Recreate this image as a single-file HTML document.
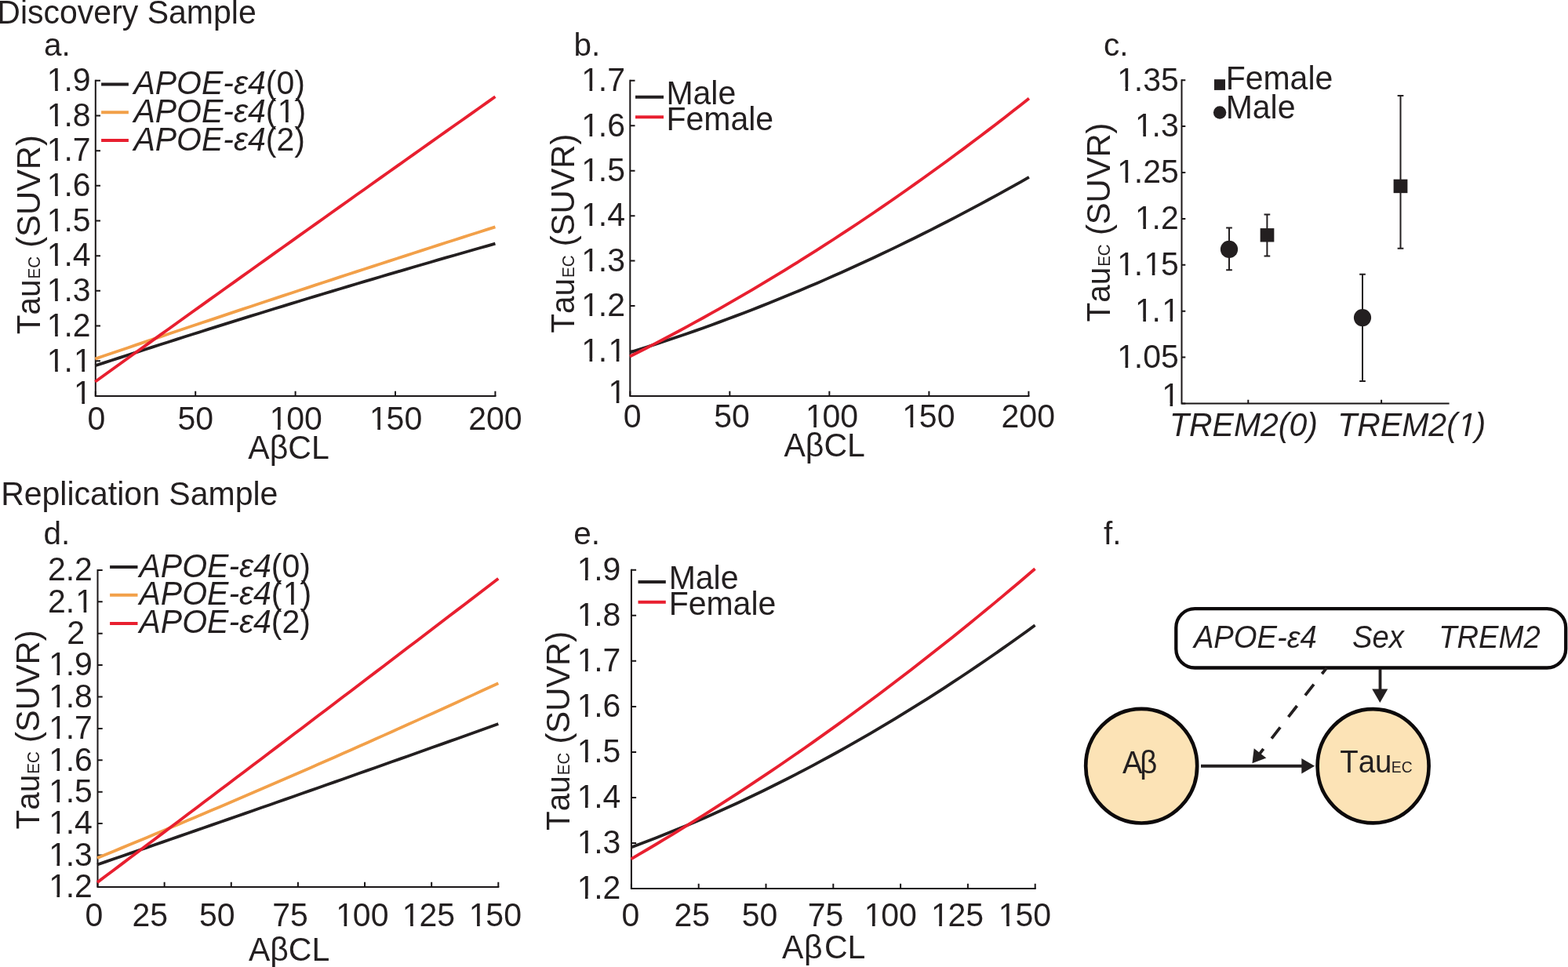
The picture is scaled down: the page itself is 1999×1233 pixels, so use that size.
<!DOCTYPE html>
<html><head><meta charset="utf-8"><style>
html,body{margin:0;padding:0;background:#fff;}
svg{display:block;}
text{font-family:"Liberation Sans",Arial,Helvetica,sans-serif;fill:#231f20;font-kerning:none;}
</style></head><body>
<svg width="1999" height="1233" viewBox="0 0 1999 1233">
<rect width="1999" height="1233" fill="#fff"/>
<text transform="translate(-3.66 29.70) scale(1 1.02)" font-size="41">Discovery Sample</text>
<text transform="translate(1.14 643.80) scale(1 1.02)" font-size="41">Replication Sample</text>
<text transform="translate(55.88 71.10)" font-size="40.5">a.</text>
<text transform="translate(731.39 70.80)" font-size="40.5">b.</text>
<text transform="translate(1406.88 70.70)" font-size="40.5">c.</text>
<text transform="translate(55.60 693.60)" font-size="40.5">d.</text>
<text transform="translate(731.28 693.60)" font-size="40.5">e.</text>
<text transform="translate(1406.93 693.60)" font-size="40.5">f.</text>
<path d="M121.80,101.80 V504.90 H632.40" fill="none" stroke="#1a1617" stroke-width="2.0" stroke-linejoin="miter"/>
<path d="M121.80,504.90H128.00M121.80,460.22H128.00M121.80,415.54H128.00M121.80,370.87H128.00M121.80,326.19H128.00M121.80,281.51H128.00M121.80,236.83H128.00M121.80,192.16H128.00M121.80,147.48H128.00M121.80,102.80H128.00M121.80,504.90V498.70M249.20,504.90V498.70M376.60,504.90V498.70M504.00,504.90V498.70M631.40,504.90V498.70" fill="none" stroke="#1a1617" stroke-width="2.0"/>
<text transform="translate(92.80 515.00) scale(1 1.04)" font-size="41.0"><tspan dx="1.23">1</tspan></text>
<text transform="translate(58.60 473.52) scale(1 1.04)" font-size="41.0"><tspan dx="1.23">1</tspan><tspan dx="-1.23">.</tspan><tspan dx="1.23">1</tspan></text>
<text transform="translate(58.60 428.84) scale(1 1.04)" font-size="41.0"><tspan dx="1.23">1</tspan><tspan dx="-1.23">.2</tspan></text>
<text transform="translate(58.60 384.17) scale(1 1.04)" font-size="41.0"><tspan dx="1.23">1</tspan><tspan dx="-1.23">.3</tspan></text>
<text transform="translate(58.60 339.49) scale(1 1.04)" font-size="41.0"><tspan dx="1.23">1</tspan><tspan dx="-1.23">.4</tspan></text>
<text transform="translate(58.60 294.81) scale(1 1.04)" font-size="41.0"><tspan dx="1.23">1</tspan><tspan dx="-1.23">.5</tspan></text>
<text transform="translate(58.60 250.13) scale(1 1.04)" font-size="41.0"><tspan dx="1.23">1</tspan><tspan dx="-1.23">.6</tspan></text>
<text transform="translate(58.60 205.46) scale(1 1.04)" font-size="41.0"><tspan dx="1.23">1</tspan><tspan dx="-1.23">.7</tspan></text>
<text transform="translate(58.60 160.78) scale(1 1.04)" font-size="41.0"><tspan dx="1.23">1</tspan><tspan dx="-1.23">.8</tspan></text>
<text transform="translate(58.60 116.10) scale(1 1.04)" font-size="41.0"><tspan dx="1.23">1</tspan><tspan dx="-1.23">.9</tspan></text>
<text transform="translate(111.60 548.20) scale(1 1.04)" font-size="41.0">0</text>
<text transform="translate(226.40 548.20) scale(1 1.04)" font-size="41.0">50</text>
<text transform="translate(342.40 548.20) scale(1 1.04)" font-size="41.0"><tspan dx="1.23">1</tspan><tspan dx="-1.23">00</tspan></text>
<text transform="translate(469.80 548.20) scale(1 1.04)" font-size="41.0"><tspan dx="1.23">1</tspan><tspan dx="-1.23">50</tspan></text>
<text transform="translate(597.20 548.20) scale(1 1.04)" font-size="41.0">200</text>
<text transform="translate(316.37 584.90) scale(1 1.04)" font-size="41.0">AβCL</text>
<text transform="translate(51.10 426.25) rotate(-90) scale(1 1.04)" font-size="40.5">Tau</text>
<text transform="translate(51.10 355.54) rotate(-90) scale(1 1.04)" font-size="20.5">EC</text>
<text transform="translate(51.10 315.81) rotate(-90) scale(1 1.04)" font-size="41.7">(SUVR)</text>
<polyline points="121.30,466.27 131.71,462.86 142.12,459.46 152.53,456.07 162.94,452.69 173.35,449.32 183.76,445.96 194.17,442.61 204.58,439.27 214.99,435.94 225.40,432.62 235.81,429.31 246.22,426.01 256.63,422.72 267.04,419.43 277.45,416.16 287.86,412.90 298.27,409.65 308.68,406.40 319.09,403.17 329.50,399.94 339.91,396.73 350.32,393.52 360.73,390.33 371.14,387.14 381.56,383.97 391.97,380.80 402.38,377.64 412.79,374.50 423.20,371.36 433.61,368.23 444.02,365.11 454.43,362.00 464.84,358.91 475.25,355.82 485.66,352.74 496.07,349.67 506.48,346.61 516.89,343.56 527.30,340.52 537.71,337.48 548.12,334.46 558.53,331.45 568.94,328.45 579.35,325.46 589.76,322.47 600.17,319.50 610.58,316.54 620.99,313.58 631.40,310.64" fill="none" stroke="#231f20" stroke-width="3.8" stroke-linejoin="round"/>
<polyline points="121.30,457.63 131.71,454.07 142.12,450.53 152.53,446.98 162.94,443.44 173.35,439.91 183.76,436.38 194.17,432.86 204.58,429.34 214.99,425.82 225.40,422.32 235.81,418.81 246.22,415.31 256.63,411.82 267.04,408.33 277.45,404.85 287.86,401.37 298.27,397.89 308.68,394.42 319.09,390.96 329.50,387.50 339.91,384.05 350.32,380.60 360.73,377.15 371.14,373.71 381.56,370.28 391.97,366.85 402.38,363.42 412.79,360.00 423.20,356.59 433.61,353.18 444.02,349.78 454.43,346.38 464.84,342.98 475.25,339.59 485.66,336.21 496.07,332.83 506.48,329.45 516.89,326.08 527.30,322.72 537.71,319.36 548.12,316.00 558.53,312.65 568.94,309.31 579.35,305.97 589.76,302.63 600.17,299.30 610.58,295.97 620.99,292.65 631.40,289.34" fill="none" stroke="#f2a049" stroke-width="3.8" stroke-linejoin="round"/>
<polyline points="121.30,486.73 131.71,479.25 142.12,471.76 152.53,464.28 162.94,456.80 173.35,449.32 183.76,441.85 194.17,434.38 204.58,426.91 214.99,419.44 225.40,411.98 235.81,404.52 246.22,397.07 256.63,389.61 267.04,382.16 277.45,374.72 287.86,367.27 298.27,359.83 308.68,352.39 319.09,344.96 329.50,337.53 339.91,330.10 350.32,322.67 360.73,315.25 371.14,307.83 381.56,300.41 391.97,292.99 402.38,285.58 412.79,278.18 423.20,270.77 433.61,263.37 444.02,255.97 454.43,248.57 464.84,241.18 475.25,233.79 485.66,226.40 496.07,219.02 506.48,211.63 516.89,204.26 527.30,196.88 537.71,189.51 548.12,182.14 558.53,174.77 568.94,167.41 579.35,160.05 589.76,152.69 600.17,145.33 610.58,137.98 620.99,130.63 631.40,123.29" fill="none" stroke="#e81f2f" stroke-width="3.8" stroke-linejoin="round"/>
<line x1="129.10" y1="107.60" x2="163.90" y2="107.60" stroke="#231f20" stroke-width="4"/>
<text transform="translate(170.42 119.60) scale(1 1.04)" font-size="41.0"><tspan font-style="italic">APOE-ε4</tspan>(0)</text>
<line x1="129.10" y1="143.35" x2="163.90" y2="143.35" stroke="#f2a049" stroke-width="4"/>
<text transform="translate(170.42 155.65) scale(1 1.04)" font-size="41.0"><tspan font-style="italic">APOE-ε4</tspan>(<tspan dx="1.23">1</tspan>)</text>
<line x1="129.10" y1="179.10" x2="163.90" y2="179.10" stroke="#e81f2f" stroke-width="4"/>
<text transform="translate(170.42 191.70) scale(1 1.04)" font-size="41.0"><tspan font-style="italic">APOE-ε4</tspan>(2)</text>
<path d="M803.30,101.80 V504.90 H1312.40" fill="none" stroke="#1a1617" stroke-width="2.0" stroke-linejoin="miter"/>
<path d="M803.30,504.90H809.50M803.30,447.46H809.50M803.30,390.01H809.50M803.30,332.57H809.50M803.30,275.13H809.50M803.30,217.69H809.50M803.30,160.24H809.50M803.30,102.80H809.50M803.30,504.90V498.70M930.33,504.90V498.70M1057.35,504.90V498.70M1184.38,504.90V498.70M1311.40,504.90V498.70" fill="none" stroke="#1a1617" stroke-width="2.0"/>
<text transform="translate(774.20 513.70) scale(1 1.04)" font-size="41.0"><tspan dx="1.23">1</tspan></text>
<text transform="translate(740.00 460.76) scale(1 1.04)" font-size="41.0"><tspan dx="1.23">1</tspan><tspan dx="-1.23">.</tspan><tspan dx="1.23">1</tspan></text>
<text transform="translate(740.00 403.31) scale(1 1.04)" font-size="41.0"><tspan dx="1.23">1</tspan><tspan dx="-1.23">.2</tspan></text>
<text transform="translate(740.00 345.87) scale(1 1.04)" font-size="41.0"><tspan dx="1.23">1</tspan><tspan dx="-1.23">.3</tspan></text>
<text transform="translate(740.00 288.43) scale(1 1.04)" font-size="41.0"><tspan dx="1.23">1</tspan><tspan dx="-1.23">.4</tspan></text>
<text transform="translate(740.00 230.99) scale(1 1.04)" font-size="41.0"><tspan dx="1.23">1</tspan><tspan dx="-1.23">.5</tspan></text>
<text transform="translate(740.00 173.54) scale(1 1.04)" font-size="41.0"><tspan dx="1.23">1</tspan><tspan dx="-1.23">.6</tspan></text>
<text transform="translate(740.00 116.10) scale(1 1.04)" font-size="41.0"><tspan dx="1.23">1</tspan><tspan dx="-1.23">.7</tspan></text>
<text transform="translate(794.70 545.40) scale(1 1.04)" font-size="41.0">0</text>
<text transform="translate(910.23 545.40) scale(1 1.04)" font-size="41.0">50</text>
<text transform="translate(1025.74 545.40) scale(1 1.04)" font-size="41.0"><tspan dx="1.23">1</tspan><tspan dx="-1.23">00</tspan></text>
<text transform="translate(1149.04 545.40) scale(1 1.04)" font-size="41.0"><tspan dx="1.23">1</tspan><tspan dx="-1.23">50</tspan></text>
<text transform="translate(1276.57 545.40) scale(1 1.04)" font-size="41.0">200</text>
<text transform="translate(999.47 582.20) scale(1 1.04)" font-size="41.0">AβCL</text>
<text transform="translate(731.50 424.75) rotate(-90) scale(1 1.04)" font-size="40.5">Tau</text>
<text transform="translate(731.50 354.04) rotate(-90) scale(1 1.04)" font-size="20.5">EC</text>
<text transform="translate(731.50 314.31) rotate(-90) scale(1 1.04)" font-size="41.7">(SUVR)</text>
<polyline points="803.00,449.32 813.39,446.08 823.77,442.78 834.16,439.43 844.54,436.03 854.93,432.57 865.31,429.05 875.70,425.48 886.09,421.85 896.47,418.17 906.86,414.44 917.24,410.65 927.63,406.80 938.01,402.90 948.40,398.95 958.79,394.94 969.17,390.87 979.56,386.75 989.94,382.58 1000.33,378.35 1010.71,374.06 1021.10,369.72 1031.49,365.33 1041.87,360.88 1052.26,356.38 1062.64,351.82 1073.03,347.20 1083.41,342.53 1093.80,337.81 1104.19,333.03 1114.57,328.20 1124.96,323.31 1135.34,318.37 1145.73,313.37 1156.11,308.31 1166.50,303.21 1176.89,298.04 1187.27,292.83 1197.66,287.55 1208.04,282.22 1218.43,276.84 1228.81,271.40 1239.20,265.91 1249.59,260.36 1259.97,254.76 1270.36,249.10 1280.74,243.39 1291.13,237.63 1301.51,231.80 1311.90,225.93" fill="none" stroke="#231f20" stroke-width="3.8" stroke-linejoin="round"/>
<polyline points="803.00,454.49 813.39,449.26 823.77,443.97 834.16,438.62 844.54,433.21 854.93,427.74 865.31,422.20 875.70,416.60 886.09,410.94 896.47,405.22 906.86,399.44 917.24,393.59 927.63,387.68 938.01,381.71 948.40,375.68 958.79,369.58 969.17,363.43 979.56,357.21 989.94,350.93 1000.33,344.59 1010.71,338.18 1021.10,331.72 1031.49,325.19 1041.87,318.60 1052.26,311.94 1062.64,305.23 1073.03,298.45 1083.41,291.61 1093.80,284.71 1104.19,277.75 1114.57,270.73 1124.96,263.64 1135.34,256.49 1145.73,249.28 1156.11,242.01 1166.50,234.67 1176.89,227.28 1187.27,219.82 1197.66,212.30 1208.04,204.71 1218.43,197.07 1228.81,189.36 1239.20,181.59 1249.59,173.76 1259.97,165.87 1270.36,157.92 1280.74,149.90 1291.13,141.82 1301.51,133.68 1311.90,125.48" fill="none" stroke="#e81f2f" stroke-width="3.8" stroke-linejoin="round"/>
<line x1="810.00" y1="123.80" x2="846.00" y2="123.80" stroke="#231f20" stroke-width="4"/>
<line x1="810.00" y1="149.30" x2="846.00" y2="149.30" stroke="#e81f2f" stroke-width="4"/>
<text transform="translate(849.44 133.00) scale(1 1.04)" font-size="41.0">Male</text>
<text transform="translate(849.44 166.00) scale(1 1.04)" font-size="41.0">Female</text>
<path d="M1506.50,101.20 V514.50 H1847.60" fill="none" stroke="#1a1617" stroke-width="2.0"/>
<path d="M1506.50,514.50H1511.30M1506.50,455.60H1511.30M1506.50,396.70H1511.30M1506.50,337.80H1511.30M1506.50,278.90H1511.30M1506.50,220.00H1511.30M1506.50,161.10H1511.30M1506.50,102.20H1511.30M1591.30,514.50V509.70M1761.10,514.50V509.70" fill="none" stroke="#1a1617" stroke-width="2.0"/>
<text transform="translate(1423.00 468.90) scale(1 1.04)" font-size="41.0"><tspan dx="1.23">1</tspan><tspan dx="-1.23">.05</tspan></text>
<text transform="translate(1445.80 410.00) scale(1 1.04)" font-size="41.0"><tspan dx="1.23">1</tspan><tspan dx="-1.23">.</tspan><tspan dx="1.23">1</tspan></text>
<text transform="translate(1423.00 351.10) scale(1 1.04)" font-size="41.0"><tspan dx="1.23">1</tspan><tspan dx="-1.23">.</tspan><tspan dx="1.23">1</tspan><tspan dx="-1.23">5</tspan></text>
<text transform="translate(1445.80 292.20) scale(1 1.04)" font-size="41.0"><tspan dx="1.23">1</tspan><tspan dx="-1.23">.2</tspan></text>
<text transform="translate(1423.00 233.30) scale(1 1.04)" font-size="41.0"><tspan dx="1.23">1</tspan><tspan dx="-1.23">.25</tspan></text>
<text transform="translate(1445.80 174.40) scale(1 1.04)" font-size="41.0"><tspan dx="1.23">1</tspan><tspan dx="-1.23">.3</tspan></text>
<text transform="translate(1423.00 115.50) scale(1 1.04)" font-size="41.0"><tspan dx="1.23">1</tspan><tspan dx="-1.23">.35</tspan></text>
<text transform="translate(1480.00 517.80) scale(1 1.04)" font-size="41.0"><tspan dx="1.23">1</tspan></text>
<text transform="translate(1490.95 555.60) scale(1 1.04)" font-size="41.0" font-style="italic">TREM2(0)</text>
<text transform="translate(1705.25 555.60) scale(1 1.04)" font-size="41.0" font-style="italic">TREM2(<tspan dx="1.23">1</tspan><tspan dx="-1.23">)</tspan></text>
<text transform="translate(1415.10 410.55) rotate(-90) scale(1 1.04)" font-size="40.5">Tau</text>
<text transform="translate(1415.10 339.84) rotate(-90) scale(1 1.04)" font-size="20.5">EC</text>
<text transform="translate(1415.10 300.11) rotate(-90) scale(1 1.04)" font-size="41.7">(SUVR)</text>
<path d="M1563.15,290.40H1570.85M1567.00,290.40V344.30M1563.15,344.30H1570.85" fill="none" stroke="#231f20" stroke-width="2.0"/>
<path d="M1611.55,273.40H1619.25M1615.40,273.40V326.50M1611.55,326.50H1619.25" fill="none" stroke="#231f20" stroke-width="2.0"/>
<path d="M1733.15,349.70H1740.85M1737.00,349.70V485.90M1733.15,485.90H1740.85" fill="none" stroke="#231f20" stroke-width="2.0"/>
<path d="M1781.65,122.00H1789.35M1785.50,122.00V316.80M1781.65,316.80H1789.35" fill="none" stroke="#231f20" stroke-width="2.0"/>
<circle cx="1567.0" cy="317.9" r="11.1" fill="#231f20"/>
<circle cx="1737.0" cy="405.1" r="11.1" fill="#231f20"/>
<rect x="1606.65" y="291.10" width="17.7" height="17.4" fill="#231f20"/>
<rect x="1776.60" y="228.65" width="17.8" height="17.5" fill="#231f20"/>
<rect x="1548.0" y="101.2" width="14.0" height="13.7" fill="#231f20"/>
<circle cx="1555.1" cy="143.5" r="8.2" fill="#231f20"/>
<text transform="translate(1562.64 114.00) scale(1 1.04)" font-size="41.0">Female</text>
<text transform="translate(1562.64 151.00) scale(1 1.04)" font-size="41.0">Male</text>
<path d="M124.50,725.90 V1130.90 H636.30" fill="none" stroke="#1a1617" stroke-width="2.0" stroke-linejoin="miter"/>
<path d="M124.50,1130.90H130.70M124.50,1090.50H130.70M124.50,1050.10H130.70M124.50,1009.70H130.70M124.50,969.30H130.70M124.50,928.90H130.70M124.50,888.50H130.70M124.50,848.10H130.70M124.50,807.70H130.70M124.50,767.30H130.70M124.50,726.90H130.70M124.50,1130.90V1124.70M209.63,1130.90V1124.70M294.77,1130.90V1124.70M379.90,1130.90V1124.70M465.03,1130.90V1124.70M550.17,1130.90V1124.70M635.30,1130.90V1124.70" fill="none" stroke="#1a1617" stroke-width="2.0"/>
<text transform="translate(60.90 1144.20) scale(1 1.04)" font-size="41.0"><tspan dx="1.23">1</tspan><tspan dx="-1.23">.2</tspan></text>
<text transform="translate(60.90 1103.80) scale(1 1.04)" font-size="41.0"><tspan dx="1.23">1</tspan><tspan dx="-1.23">.3</tspan></text>
<text transform="translate(60.90 1063.40) scale(1 1.04)" font-size="41.0"><tspan dx="1.23">1</tspan><tspan dx="-1.23">.4</tspan></text>
<text transform="translate(60.90 1023.00) scale(1 1.04)" font-size="41.0"><tspan dx="1.23">1</tspan><tspan dx="-1.23">.5</tspan></text>
<text transform="translate(60.90 982.60) scale(1 1.04)" font-size="41.0"><tspan dx="1.23">1</tspan><tspan dx="-1.23">.6</tspan></text>
<text transform="translate(60.90 942.20) scale(1 1.04)" font-size="41.0"><tspan dx="1.23">1</tspan><tspan dx="-1.23">.7</tspan></text>
<text transform="translate(60.90 901.80) scale(1 1.04)" font-size="41.0"><tspan dx="1.23">1</tspan><tspan dx="-1.23">.8</tspan></text>
<text transform="translate(60.90 861.40) scale(1 1.04)" font-size="41.0"><tspan dx="1.23">1</tspan><tspan dx="-1.23">.9</tspan></text>
<text transform="translate(85.20 821.00) scale(1 1.04)" font-size="41.0">2</text>
<text transform="translate(60.90 780.60) scale(1 1.04)" font-size="41.0">2.<tspan dx="1.23">1</tspan></text>
<text transform="translate(60.90 740.20) scale(1 1.04)" font-size="41.0">2.2</text>
<text transform="translate(108.60 1181.10) scale(1 1.04)" font-size="41.0">0</text>
<text transform="translate(168.43 1181.10) scale(1 1.04)" font-size="41.0">25</text>
<text transform="translate(253.88 1181.10) scale(1 1.04)" font-size="41.0">50</text>
<text transform="translate(347.31 1181.10) scale(1 1.04)" font-size="41.0">75</text>
<text transform="translate(427.04 1181.10) scale(1 1.04)" font-size="41.0"><tspan dx="1.23">1</tspan><tspan dx="-1.23">00</tspan></text>
<text transform="translate(511.60 1181.10) scale(1 1.04)" font-size="41.0"><tspan dx="1.23">1</tspan><tspan dx="-1.23">25</tspan></text>
<text transform="translate(596.54 1181.10) scale(1 1.04)" font-size="41.0"><tspan dx="1.23">1</tspan><tspan dx="-1.23">50</tspan></text>
<text transform="translate(316.92 1224.60) scale(1 1.04)" font-size="41.0">AβCL</text>
<text transform="translate(50.20 1057.45) rotate(-90) scale(1 1.04)" font-size="40.5">Tau</text>
<text transform="translate(50.20 986.74) rotate(-90) scale(1 1.04)" font-size="20.5">EC</text>
<text transform="translate(50.20 947.01) rotate(-90) scale(1 1.04)" font-size="41.7">(SUVR)</text>
<polyline points="124.00,1102.49 134.43,1098.89 144.87,1095.29 155.30,1091.69 165.74,1088.09 176.17,1084.49 186.61,1080.88 197.04,1077.27 207.48,1073.65 217.91,1070.04 228.35,1066.42 238.78,1062.79 249.22,1059.17 259.65,1055.54 270.09,1051.91 280.52,1048.28 290.96,1044.64 301.39,1041.00 311.82,1037.36 322.26,1033.72 332.69,1030.07 343.13,1026.42 353.56,1022.77 364.00,1019.11 374.43,1015.45 384.87,1011.79 395.30,1008.13 405.74,1004.46 416.17,1000.79 426.61,997.12 437.04,993.44 447.48,989.76 457.91,986.08 468.34,982.40 478.78,978.71 489.21,975.02 499.65,971.33 510.08,967.64 520.52,963.94 530.95,960.24 541.39,956.54 551.82,952.83 562.26,949.12 572.69,945.41 583.13,941.70 593.56,937.98 604.00,934.26 614.43,930.54 624.87,926.81 635.30,923.08" fill="none" stroke="#231f20" stroke-width="3.8" stroke-linejoin="round"/>
<polyline points="124.00,1093.99 134.43,1089.72 144.87,1085.43 155.30,1081.13 165.74,1076.82 176.17,1072.50 186.61,1068.16 197.04,1063.82 207.48,1059.46 217.91,1055.10 228.35,1050.72 238.78,1046.33 249.22,1041.93 259.65,1037.51 270.09,1033.09 280.52,1028.66 290.96,1024.21 301.39,1019.75 311.82,1015.29 322.26,1010.81 332.69,1006.32 343.13,1001.81 353.56,997.30 364.00,992.78 374.43,988.24 384.87,983.69 395.30,979.14 405.74,974.57 416.17,969.99 426.61,965.39 437.04,960.79 447.48,956.18 457.91,951.55 468.34,946.91 478.78,942.27 489.21,937.61 499.65,932.94 510.08,928.25 520.52,923.56 530.95,918.86 541.39,914.14 551.82,909.41 562.26,904.68 572.69,899.93 583.13,895.16 593.56,890.39 604.00,885.61 614.43,880.82 624.87,876.01 635.30,871.19" fill="none" stroke="#f2a049" stroke-width="3.8" stroke-linejoin="round"/>
<polyline points="124.00,1125.14 134.43,1117.31 144.87,1109.47 155.30,1101.63 165.74,1093.79 176.17,1085.95 186.61,1078.10 197.04,1070.25 207.48,1062.39 217.91,1054.53 228.35,1046.67 238.78,1038.81 249.22,1030.95 259.65,1023.08 270.09,1015.20 280.52,1007.33 290.96,999.45 301.39,991.57 311.82,983.68 322.26,975.80 332.69,967.91 343.13,960.01 353.56,952.12 364.00,944.22 374.43,936.31 384.87,928.41 395.30,920.50 405.74,912.59 416.17,904.67 426.61,896.75 437.04,888.83 447.48,880.91 457.91,872.98 468.34,865.05 478.78,857.12 489.21,849.18 499.65,841.24 510.08,833.30 520.52,825.36 530.95,817.41 541.39,809.46 551.82,801.50 562.26,793.54 572.69,785.58 583.13,777.62 593.56,769.65 604.00,761.68 614.43,753.71 624.87,745.74 635.30,737.76" fill="none" stroke="#e81f2f" stroke-width="3.8" stroke-linejoin="round"/>
<line x1="140.10" y1="723.10" x2="175.50" y2="723.10" stroke="#231f20" stroke-width="4"/>
<text transform="translate(177.52 735.70) scale(1 1.04)" font-size="41.0"><tspan font-style="italic">APOE-ε4</tspan>(0)</text>
<line x1="140.10" y1="758.80" x2="175.50" y2="758.80" stroke="#f2a049" stroke-width="4"/>
<text transform="translate(177.52 770.70) scale(1 1.04)" font-size="41.0"><tspan font-style="italic">APOE-ε4</tspan>(<tspan dx="1.23">1</tspan>)</text>
<line x1="140.10" y1="795.00" x2="175.50" y2="795.00" stroke="#e81f2f" stroke-width="4"/>
<text transform="translate(177.52 806.50) scale(1 1.04)" font-size="41.0"><tspan font-style="italic">APOE-ε4</tspan>(2)</text>
<path d="M804.90,725.80 V1133.00 H1320.70" fill="none" stroke="#1a1617" stroke-width="2.0" stroke-linejoin="miter"/>
<path d="M804.90,1133.00H811.10M804.90,1074.97H811.10M804.90,1016.94H811.10M804.90,958.91H811.10M804.90,900.89H811.10M804.90,842.86H811.10M804.90,784.83H811.10M804.90,726.80H811.10M804.90,1133.00V1126.80M890.70,1133.00V1126.80M976.50,1133.00V1126.80M1062.30,1133.00V1126.80M1148.10,1133.00V1126.80M1233.90,1133.00V1126.80M1319.70,1133.00V1126.80" fill="none" stroke="#1a1617" stroke-width="2.0"/>
<text transform="translate(734.40 1146.30) scale(1 1.04)" font-size="41.0"><tspan dx="1.23">1</tspan><tspan dx="-1.23">.2</tspan></text>
<text transform="translate(734.40 1088.27) scale(1 1.04)" font-size="41.0"><tspan dx="1.23">1</tspan><tspan dx="-1.23">.3</tspan></text>
<text transform="translate(734.40 1030.24) scale(1 1.04)" font-size="41.0"><tspan dx="1.23">1</tspan><tspan dx="-1.23">.4</tspan></text>
<text transform="translate(734.40 972.21) scale(1 1.04)" font-size="41.0"><tspan dx="1.23">1</tspan><tspan dx="-1.23">.5</tspan></text>
<text transform="translate(734.40 914.19) scale(1 1.04)" font-size="41.0"><tspan dx="1.23">1</tspan><tspan dx="-1.23">.6</tspan></text>
<text transform="translate(734.40 856.16) scale(1 1.04)" font-size="41.0"><tspan dx="1.23">1</tspan><tspan dx="-1.23">.7</tspan></text>
<text transform="translate(734.40 798.13) scale(1 1.04)" font-size="41.0"><tspan dx="1.23">1</tspan><tspan dx="-1.23">.8</tspan></text>
<text transform="translate(734.40 740.10) scale(1 1.04)" font-size="41.0"><tspan dx="1.23">1</tspan><tspan dx="-1.23">.9</tspan></text>
<text transform="translate(792.60 1180.70) scale(1 1.04)" font-size="41.0">0</text>
<text transform="translate(859.53 1180.70) scale(1 1.04)" font-size="41.0">25</text>
<text transform="translate(945.78 1180.70) scale(1 1.04)" font-size="41.0">50</text>
<text transform="translate(1029.71 1180.70) scale(1 1.04)" font-size="41.0">75</text>
<text transform="translate(1100.44 1180.70) scale(1 1.04)" font-size="41.0"><tspan dx="1.23">1</tspan><tspan dx="-1.23">00</tspan></text>
<text transform="translate(1185.70 1180.70) scale(1 1.04)" font-size="41.0"><tspan dx="1.23">1</tspan><tspan dx="-1.23">25</tspan></text>
<text transform="translate(1271.64 1180.70) scale(1 1.04)" font-size="41.0"><tspan dx="1.23">1</tspan><tspan dx="-1.23">50</tspan></text>
<text transform="translate(0 1222.0) scale(1 1.04)" font-size="41.0"><tspan x="997.12">A</tspan><tspan x="1024.96">β</tspan><tspan x="1050.92">C</tspan><tspan x="1080.54">L</tspan></text>
<text transform="translate(726.40 1058.95) rotate(-90) scale(1 1.04)" font-size="40.5">Tau</text>
<text transform="translate(726.40 988.24) rotate(-90) scale(1 1.04)" font-size="20.5">EC</text>
<text transform="translate(726.40 948.51) rotate(-90) scale(1 1.04)" font-size="41.7">(SUVR)</text>
<polyline points="804.50,1080.46 815.01,1076.53 825.52,1072.54 836.03,1068.46 846.54,1064.31 857.05,1060.08 867.56,1055.77 878.07,1051.39 888.58,1046.92 899.09,1042.39 909.60,1037.77 920.11,1033.07 930.62,1028.30 941.13,1023.45 951.64,1018.53 962.15,1013.52 972.66,1008.44 983.17,1003.28 993.68,998.04 1004.19,992.73 1014.70,987.34 1025.21,981.87 1035.72,976.33 1046.23,970.70 1056.74,965.00 1067.26,959.22 1077.77,953.37 1088.28,947.43 1098.79,941.42 1109.30,935.34 1119.81,929.17 1130.32,922.93 1140.83,916.61 1151.34,910.21 1161.85,903.73 1172.36,897.18 1182.87,890.55 1193.38,883.85 1203.89,877.06 1214.40,870.20 1224.91,863.26 1235.42,856.24 1245.93,849.15 1256.44,841.98 1266.95,834.73 1277.46,827.40 1287.97,820.00 1298.48,812.52 1308.99,804.96 1319.50,797.32" fill="none" stroke="#231f20" stroke-width="3.8" stroke-linejoin="round"/>
<polyline points="804.50,1095.30 815.01,1089.17 825.52,1082.99 836.03,1076.75 846.54,1070.44 857.05,1064.08 867.56,1057.66 878.07,1051.18 888.58,1044.64 899.09,1038.04 909.60,1031.38 920.11,1024.66 930.62,1017.88 941.13,1011.04 951.64,1004.15 962.15,997.19 972.66,990.17 983.17,983.10 993.68,975.96 1004.19,968.77 1014.70,961.51 1025.21,954.20 1035.72,946.83 1046.23,939.40 1056.74,931.90 1067.26,924.35 1077.77,916.74 1088.28,909.07 1098.79,901.34 1109.30,893.56 1119.81,885.71 1130.32,877.80 1140.83,869.83 1151.34,861.81 1161.85,853.72 1172.36,845.57 1182.87,837.37 1193.38,829.11 1203.89,820.78 1214.40,812.40 1224.91,803.96 1235.42,795.45 1245.93,786.89 1256.44,778.27 1266.95,769.59 1277.46,760.85 1287.97,752.05 1298.48,743.19 1308.99,734.28 1319.50,725.30" fill="none" stroke="#e81f2f" stroke-width="3.8" stroke-linejoin="round"/>
<line x1="813.50" y1="742.00" x2="848.80" y2="742.00" stroke="#231f20" stroke-width="4"/>
<line x1="813.50" y1="767.70" x2="848.80" y2="767.70" stroke="#e81f2f" stroke-width="4"/>
<text transform="translate(852.64 750.80) scale(1 1.04)" font-size="41.0">Male</text>
<text transform="translate(852.64 784.00) scale(1 1.04)" font-size="41.0">Female</text>
<rect x="1499.3" y="776.2" width="496.9" height="75.3" rx="24" ry="24" fill="#fff" stroke="#0d0a0b" stroke-width="4.3"/>
<text transform="translate(1521.88 825.90) scale(1 1.04)" font-size="38.2" font-style="italic">APOE-ε4</text>
<text transform="translate(1723.99 825.80) scale(1 1.04)" font-size="38.2" font-style="italic">Sex</text>
<text transform="translate(1834.17 825.80) scale(1 1.04)" font-size="38.2" font-style="italic">TREM2</text>
<ellipse cx="1455.2" cy="976.7" rx="71.0" ry="72.8" fill="#fce3b6" stroke="#0d0a0b" stroke-width="4.7"/>
<ellipse cx="1750.6" cy="976.7" rx="71.0" ry="72.6" fill="#fce3b6" stroke="#0d0a0b" stroke-width="4.7"/>
<text transform="translate(1431.03 985.7) scale(1 1.04)" font-size="38.2">A<tspan dx="-3.3">β</tspan></text>
<text transform="translate(1708.24 984.6) scale(1 1.04)" font-size="38.4">Tau<tspan font-size="19.3" dx="-0.6">EC</tspan></text>
<line x1="1531.00" y1="976.80" x2="1660.00" y2="976.80" stroke="#231f20" stroke-width="3.9"/>
<path d="M1676.1,976.8 L1659.3,967.1 L1659.3,986.5 Z" fill="#231f20"/>
<line x1="1759.50" y1="853.00" x2="1759.50" y2="880.00" stroke="#231f20" stroke-width="3.8"/>
<path d="M1759.3,896.0 L1749.2,878.5 L1769.3,878.5 Z" fill="#231f20"/>
<line x1="1691.30" y1="851.60" x2="1605.89" y2="961.08" stroke="#231f20" stroke-width="3.8" stroke-dasharray="17.9 16.9" stroke-dashoffset="8.2"/>
<path d="M1596.40,973.20 L1598.71,954.19 L1614.29,966.39 Z" fill="#231f20"/>
<rect x="96" y="511" width="8.338" height="5" fill="#fff"/>
<rect x="107.961" y="511" width="8.039" height="5" fill="#fff"/>
<rect x="62" y="470" width="8.144" height="5" fill="#fff"/>
<rect x="73.768" y="470" width="7.232" height="5" fill="#fff"/>
<rect x="96" y="470" width="8.338" height="5" fill="#fff"/>
<rect x="107.961" y="470" width="8.039" height="5" fill="#fff"/>
<rect x="62" y="425" width="8.144" height="5" fill="#fff"/>
<rect x="73.768" y="425" width="7.232" height="5" fill="#fff"/>
<rect x="62" y="380" width="8.144" height="5" fill="#fff"/>
<rect x="73.768" y="380" width="7.232" height="5" fill="#fff"/>
<rect x="62" y="335" width="8.144" height="5" fill="#fff"/>
<rect x="73.768" y="335" width="7.232" height="5" fill="#fff"/>
<rect x="62" y="291" width="8.144" height="5" fill="#fff"/>
<rect x="73.768" y="291" width="7.232" height="5" fill="#fff"/>
<rect x="62" y="246" width="8.144" height="5" fill="#fff"/>
<rect x="73.768" y="246" width="7.232" height="5" fill="#fff"/>
<rect x="62" y="201" width="8.144" height="5" fill="#fff"/>
<rect x="73.768" y="201" width="7.232" height="5" fill="#fff"/>
<rect x="62" y="157" width="8.144" height="5" fill="#fff"/>
<rect x="73.768" y="157" width="7.232" height="5" fill="#fff"/>
<rect x="62" y="112" width="8.144" height="5" fill="#fff"/>
<rect x="73.768" y="112" width="7.232" height="5" fill="#fff"/>
<rect x="346" y="544" width="7.937" height="5" fill="#fff"/>
<rect x="357.560" y="544" width="7.440" height="5" fill="#fff"/>
<rect x="473" y="544" width="8.337" height="5" fill="#fff"/>
<rect x="484.960" y="544" width="8.040" height="5" fill="#fff"/>
<rect x="356" y="152" width="8.020" height="5" fill="#fff"/>
<rect x="367.643" y="152" width="7.357" height="5" fill="#fff"/>
<rect x="778" y="510" width="7.738" height="5" fill="#fff"/>
<rect x="789.361" y="510" width="7.639" height="5" fill="#fff"/>
<rect x="744" y="457" width="7.544" height="5" fill="#fff"/>
<rect x="755.168" y="457" width="7.832" height="5" fill="#fff"/>
<rect x="778" y="457" width="7.738" height="5" fill="#fff"/>
<rect x="789.361" y="457" width="7.639" height="5" fill="#fff"/>
<rect x="744" y="399" width="7.544" height="5" fill="#fff"/>
<rect x="755.168" y="399" width="7.832" height="5" fill="#fff"/>
<rect x="744" y="342" width="7.544" height="5" fill="#fff"/>
<rect x="755.168" y="342" width="7.832" height="5" fill="#fff"/>
<rect x="744" y="284" width="7.544" height="5" fill="#fff"/>
<rect x="755.168" y="284" width="7.832" height="5" fill="#fff"/>
<rect x="744" y="227" width="7.544" height="5" fill="#fff"/>
<rect x="755.168" y="227" width="7.832" height="5" fill="#fff"/>
<rect x="744" y="170" width="7.544" height="5" fill="#fff"/>
<rect x="755.168" y="170" width="7.832" height="5" fill="#fff"/>
<rect x="744" y="112" width="7.544" height="5" fill="#fff"/>
<rect x="755.168" y="112" width="7.832" height="5" fill="#fff"/>
<rect x="1029" y="541" width="8.276" height="5" fill="#fff"/>
<rect x="1040.899" y="541" width="8.101" height="5" fill="#fff"/>
<rect x="1153" y="541" width="7.576" height="5" fill="#fff"/>
<rect x="1164.199" y="541" width="7.801" height="5" fill="#fff"/>
<rect x="1427" y="465" width="7.542" height="5" fill="#fff"/>
<rect x="1438.166" y="465" width="7.834" height="5" fill="#fff"/>
<rect x="1449" y="406" width="8.344" height="5" fill="#fff"/>
<rect x="1460.968" y="406" width="8.032" height="5" fill="#fff"/>
<rect x="1484" y="406" width="7.538" height="5" fill="#fff"/>
<rect x="1495.161" y="406" width="7.839" height="5" fill="#fff"/>
<rect x="1427" y="347" width="7.542" height="5" fill="#fff"/>
<rect x="1438.166" y="347" width="7.834" height="5" fill="#fff"/>
<rect x="1461" y="347" width="7.736" height="5" fill="#fff"/>
<rect x="1472.359" y="347" width="7.641" height="5" fill="#fff"/>
<rect x="1449" y="288" width="8.344" height="5" fill="#fff"/>
<rect x="1460.968" y="288" width="8.032" height="5" fill="#fff"/>
<rect x="1427" y="229" width="7.542" height="5" fill="#fff"/>
<rect x="1438.166" y="229" width="7.834" height="5" fill="#fff"/>
<rect x="1449" y="170" width="8.344" height="5" fill="#fff"/>
<rect x="1460.968" y="170" width="8.032" height="5" fill="#fff"/>
<rect x="1427" y="111" width="7.542" height="5" fill="#fff"/>
<rect x="1438.166" y="111" width="7.834" height="5" fill="#fff"/>
<rect x="1484" y="514" width="7.538" height="5" fill="#fff"/>
<rect x="1495.161" y="514" width="7.839" height="5" fill="#fff"/>
<polygon points="1859,557 1867.153,557 1868.088,552 1860,552" fill="#fff"/>
<polygon points="1870.777,557 1879,557 1880,552 1871.711,552" fill="#fff"/>
<rect x="64" y="1140" width="8.444" height="5" fill="#fff"/>
<rect x="76.068" y="1140" width="7.932" height="5" fill="#fff"/>
<rect x="64" y="1100" width="8.444" height="5" fill="#fff"/>
<rect x="76.068" y="1100" width="7.932" height="5" fill="#fff"/>
<rect x="64" y="1059" width="8.444" height="5" fill="#fff"/>
<rect x="76.068" y="1059" width="7.932" height="5" fill="#fff"/>
<rect x="64" y="1019" width="8.444" height="5" fill="#fff"/>
<rect x="76.068" y="1019" width="7.932" height="5" fill="#fff"/>
<rect x="64" y="979" width="8.444" height="5" fill="#fff"/>
<rect x="76.068" y="979" width="7.932" height="5" fill="#fff"/>
<rect x="64" y="938" width="8.444" height="5" fill="#fff"/>
<rect x="76.068" y="938" width="7.932" height="5" fill="#fff"/>
<rect x="64" y="898" width="8.444" height="5" fill="#fff"/>
<rect x="76.068" y="898" width="7.932" height="5" fill="#fff"/>
<rect x="64" y="857" width="8.444" height="5" fill="#fff"/>
<rect x="76.068" y="857" width="7.932" height="5" fill="#fff"/>
<rect x="99" y="777" width="7.638" height="5" fill="#fff"/>
<rect x="110.261" y="777" width="7.739" height="5" fill="#fff"/>
<rect x="431" y="1177" width="7.576" height="5" fill="#fff"/>
<rect x="442.199" y="1177" width="7.801" height="5" fill="#fff"/>
<rect x="515" y="1177" width="8.136" height="5" fill="#fff"/>
<rect x="526.760" y="1177" width="7.240" height="5" fill="#fff"/>
<rect x="600" y="1177" width="8.076" height="5" fill="#fff"/>
<rect x="611.699" y="1177" width="7.301" height="5" fill="#fff"/>
<rect x="363" y="767" width="8.120" height="5" fill="#fff"/>
<rect x="374.743" y="767" width="7.257" height="5" fill="#fff"/>
<rect x="738" y="1142" width="7.944" height="5" fill="#fff"/>
<rect x="749.568" y="1142" width="7.432" height="5" fill="#fff"/>
<rect x="738" y="1084" width="7.944" height="5" fill="#fff"/>
<rect x="749.568" y="1084" width="7.432" height="5" fill="#fff"/>
<rect x="738" y="1026" width="7.944" height="5" fill="#fff"/>
<rect x="749.568" y="1026" width="7.432" height="5" fill="#fff"/>
<rect x="738" y="968" width="7.944" height="5" fill="#fff"/>
<rect x="749.568" y="968" width="7.432" height="5" fill="#fff"/>
<rect x="738" y="910" width="7.944" height="5" fill="#fff"/>
<rect x="749.568" y="910" width="7.432" height="5" fill="#fff"/>
<rect x="738" y="852" width="7.944" height="5" fill="#fff"/>
<rect x="749.568" y="852" width="7.432" height="5" fill="#fff"/>
<rect x="738" y="794" width="7.944" height="5" fill="#fff"/>
<rect x="749.568" y="794" width="7.432" height="5" fill="#fff"/>
<rect x="738" y="736" width="7.944" height="5" fill="#fff"/>
<rect x="749.568" y="736" width="7.432" height="5" fill="#fff"/>
<rect x="1104" y="1177" width="7.976" height="5" fill="#fff"/>
<rect x="1115.599" y="1177" width="7.401" height="5" fill="#fff"/>
<rect x="1189" y="1177" width="8.236" height="5" fill="#fff"/>
<rect x="1200.860" y="1177" width="8.140" height="5" fill="#fff"/>
<rect x="1275" y="1177" width="8.176" height="5" fill="#fff"/>
<rect x="1286.799" y="1177" width="7.201" height="5" fill="#fff"/>
</svg>
</body></html>
